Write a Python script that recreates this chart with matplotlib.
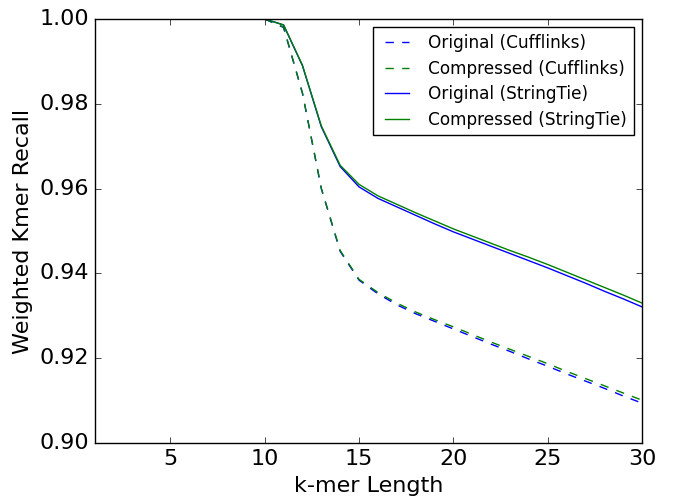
import numpy as np
import matplotlib
matplotlib.use('Agg')
import matplotlib.pyplot as plt

plt.style.use('classic')

# Valores (k = 10..30)
k = np.arange(10, 31)

orig_cufflinks = [1.0000, 0.9980, 0.9825, 0.9600, 0.9452, 0.9384, 0.9352, 0.9326,
                  0.9305, 0.9287, 0.9269, 0.9251, 0.9233, 0.9216, 0.9198, 0.9181,
                  0.9163, 0.9146, 0.9129, 0.9111, 0.9094]
comp_cufflinks = [1.0000, 0.9981, 0.9826, 0.9601, 0.9454, 0.9386, 0.9355, 0.9330,
                  0.9309, 0.9291, 0.9274, 0.9256, 0.9238, 0.9221, 0.9204, 0.9187,
                  0.9169, 0.9152, 0.9135, 0.9118, 0.9101]
orig_stringtie = [1.0000, 0.9986, 0.9890, 0.9746, 0.9652, 0.9604, 0.9577, 0.9557,
                  0.9537, 0.9517, 0.9498, 0.9481, 0.9464, 0.9447, 0.9430, 0.9413,
                  0.9395, 0.9377, 0.9358, 0.9340, 0.9321]
comp_stringtie = [1.0000, 0.9986, 0.9891, 0.9748, 0.9655, 0.9610, 0.9583, 0.9563,
                  0.9543, 0.9524, 0.9505, 0.9488, 0.9471, 0.9454, 0.9438, 0.9421,
                  0.9403, 0.9385, 0.9367, 0.9349, 0.9330]

fig = plt.figure(figsize=(6.73, 5.0), dpi=100, facecolor='white')
ax = fig.add_axes([0.141, 0.114, 0.813, 0.848])

ax.plot(k, orig_cufflinks, 'b--', label='Original (Cufflinks)')
ax.plot(k, comp_cufflinks, 'g--', label='Compressed (Cufflinks)')
ax.plot(k, orig_stringtie, 'b-', label='Original (StringTie)')
ax.plot(k, comp_stringtie, 'g-', label='Compressed (StringTie)')

ax.set_xlim(1, 30)
ax.set_ylim(0.90, 1.00)
ax.set_xticks([5, 10, 15, 20, 25, 30])
ax.set_yticks([0.90, 0.92, 0.94, 0.96, 0.98, 1.00])
ax.tick_params(labelsize=16)
ax.set_xlabel('k-mer Length', fontsize=16)
ax.set_ylabel('Weighted Kmer Recall', fontsize=16)

ax.legend(loc='upper right', fontsize=12.2, handlelength=2.0,
          handletextpad=0.85, labelspacing=0.44)

fig.savefig('out.png', dpi=100, facecolor='white')
